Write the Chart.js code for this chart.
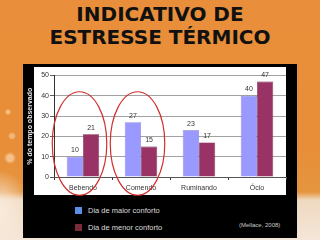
<!DOCTYPE html>
<html><head><meta charset="utf-8">
<script src="https://cdn.jsdelivr.net/npm/chart.js@4.4.1/dist/chart.umd.min.js"></script>
<style>
html,body{margin:0;padding:0;}
body{width:320px;height:240px;overflow:hidden;position:relative;
background:
 radial-gradient(circle at 8px 112px, rgba(255,235,200,0.55) 0 1.5px, rgba(255,235,200,0) 3px),
 radial-gradient(circle at 12px 136px, rgba(255,235,200,0.45) 0 2px, rgba(255,235,200,0) 4px),
 radial-gradient(circle at 10px 158px, rgba(255,235,210,0.55) 0 3px, rgba(255,235,210,0) 6px),
 radial-gradient(ellipse 30px 40px at 0px 210px, rgba(250,235,220,1) 0, rgba(250,235,220,0) 100%),
 linear-gradient(to bottom,#E98E3A 0,#E88E38 150px,#E5953F 192px,#EFD9C0 200px,#F4E6D8 240px);
font-family:"Liberation Sans",Arial,sans-serif;}
#title{position:absolute;left:0;top:3px;width:320px;text-align:center;font-family:"DejaVu Sans",sans-serif;font-weight:bold;font-size:20px;line-height:23px;color:#111;letter-spacing:0px;}
#panel{position:absolute;left:23px;top:64px;width:274px;height:174px;background:#000;}
#white{position:absolute;left:34px;top:67px;width:252px;height:128px;background:#fff;}
#c{position:absolute;left:23px;top:64px;}
.leg{position:absolute;left:75px;font-size:7.5px;color:#ddd;white-space:nowrap;}
.sw{position:absolute;left:0;top:1px;width:7px;height:7px;}
.lt{position:absolute;left:13px;top:0;line-height:9px;}
#src{position:absolute;left:239px;top:222px;font-size:6px;color:#ccc;white-space:nowrap;}
</style></head>
<body>
<div id="title">INDICATIVO DE<br>ESTRESSE TÉRMICO</div>
<div id="panel"></div>
<div id="white"></div>
<canvas id="c" width="274" height="136"></canvas>
<div id="legend"></div>
<div id="src">(Mellace, 2008)</div>
<script>
const categories = ["Bebendo", "Comendo", "Ruminando", "Ócio"];
const seriesNames = ["Dia de maior conforto", "Dia de menor conforto"];
const maiorConforto = [10, 27, 23, 40];
const menorConforto = [21, 15, 17, 47];
const yTicks = [0, 10, 20, 30, 40, 50];
const highlighted = [0, 1];

const barColors = ["#9999FF", "#993366"];
const legendColors = ["#5B8FE6", "#7A2B3A"];

// legend
const leg = document.getElementById('legend');
seriesNames.forEach((n, i) => {
  const d = document.createElement('div');
  d.className = 'leg';
  d.style.top = (206 + i * 17) + 'px';
  d.innerHTML = '<div class="sw" style="background:' + legendColors[i] + '"></div><div class="lt"></div>';
  d.querySelector('.lt').textContent = n;
  leg.appendChild(d);
});

const valueLabels = {
  id: 'valueLabels',
  afterDatasetsDraw(chart) {
    const ctx = chart.ctx;
    ctx.save();
    ctx.font = '7px "Liberation Sans", Arial, sans-serif';
    ctx.fillStyle = '#333';
    ctx.textAlign = 'center';
    ctx.textBaseline = 'bottom';
    chart.data.datasets.forEach((ds, di) => {
      chart.getDatasetMeta(di).data.forEach((bar, i) => {
        ctx.fillText(String(ds.data[i]), bar.x, bar.y - 3);
      });
    });
    ctx.restore();
  }
};

const ellipses = {
  id: 'ellipses',
  afterDraw(chart) {
    const ctx = chart.ctx;
    const xs = chart.scales.x, ys = chart.scales.y;
    const step = xs.getPixelForValue(1) - xs.getPixelForValue(0);
    const cy = ys.getPixelForValue(16.5);
    const ry = ys.getPixelForValue(0) - ys.getPixelForValue(25.5);
    ctx.save();
    ctx.strokeStyle = '#D0302E';
    ctx.lineWidth = 1.2;
    highlighted.forEach(i => {
      const cx = xs.getPixelForValue(i) - step * 0.06;
      ctx.beginPath();
      ctx.ellipse(cx, cy, step * 0.47, ry, 0, 0, Math.PI * 2);
      ctx.stroke();
    });
    ctx.restore();
  }
};

new Chart(document.getElementById('c'), {
  type: 'bar',
  data: {
    labels: categories,
    datasets: [
      { label: seriesNames[0], data: maiorConforto, backgroundColor: barColors[0], borderColor: '#6b6bcc', borderWidth: 0.6 },
      { label: seriesNames[1], data: menorConforto, backgroundColor: barColors[1], borderColor: '#6a2345', borderWidth: 0.6 }
    ]
  },
  options: {
    responsive: false,
    animation: false,
    devicePixelRatio: 1,
    layout: { padding: { top: 11.5, right: 11, left: 0, bottom: 0 } },
    categoryPercentage: 0.56,
    barPercentage: 1,
    plugins: { legend: { display: false }, tooltip: { enabled: false } },
    scales: {
      y: {
        min: 0, max: 50,
        afterBuildTicks(s) { s.ticks = yTicks.map(v => ({ value: v })); },
        afterFit(s) { s.width = 31; },
        ticks: { font: { size: 7, family: '"Liberation Sans", Arial, sans-serif' }, color: '#333', padding: 1 },
        grid: { color: '#8a8a8a', lineWidth: 0.8, tickLength: 4, tickColor: '#333' },
        border: { color: '#333', width: 1 },
        title: { display: true, text: '% do tempo observado', color: '#e6e6e6',
                 font: { size: 7, weight: 'bold', family: '"Liberation Sans", Arial, sans-serif' },
                 padding: { top: 3, bottom: 0 } }
      },
      x: {
        afterFit(s) { s.height = 23; },
        ticks: { font: { size: 7, family: '"Liberation Sans", Arial, sans-serif' }, color: '#333', padding: 4 },
        grid: { drawOnChartArea: false, tickLength: 3, tickColor: '#333' },
        border: { color: '#555', width: 1 }
      }
    }
  },
  plugins: [valueLabels, ellipses]
});
</script>
</body></html>
